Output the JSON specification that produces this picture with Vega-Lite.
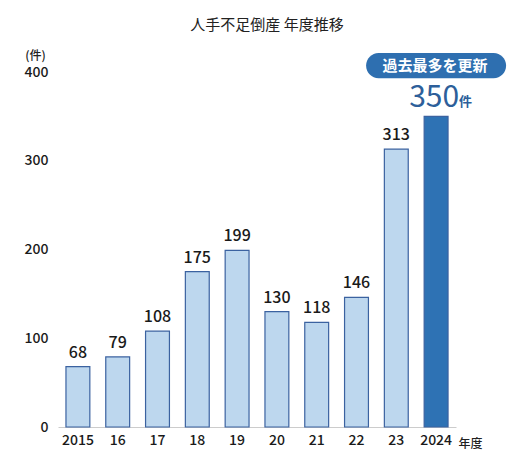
{
  "$schema": "https://vega.github.io/schema/vega-lite/v6.json",
  "description": "人手不足倒産 年度推移",
  "width": 398,
  "height": 355,
  "autosize": "none",
  "padding": {"left": 58, "top": 72, "right": 59, "bottom": 35},
  "background": "white",
  "title": {
    "text": "人手不足倒産 年度推移",
    "fontSize": 15,
    "fontWeight": "normal",
    "color": "#222222",
    "offset": 16,
    "dx": 10
  },
  "config": {
    "font": "Noto Sans CJK JP",
    "view": {"stroke": null}
  },
  "data": {
    "values": [
      {"year": "2015", "count": 68},
      {"year": "16", "count": 79},
      {"year": "17", "count": 108},
      {"year": "18", "count": 175},
      {"year": "19", "count": 199},
      {"year": "20", "count": 130},
      {"year": "21", "count": 118},
      {"year": "22", "count": 146},
      {"year": "23", "count": 313},
      {"year": "2024", "count": 350}
    ]
  },
  "encoding": {
    "x": {
      "field": "year",
      "type": "ordinal",
      "sort": null,
      "scale": {"paddingInner": 0.4, "paddingOuter": 0.2},
      "title": "年度",
      "axis": {
        "labelAngle": 0,
        "labelFontSize": 14,
        "labelFontWeight": 500,
        "labelColor": "#1a1a1a",
        "labelPadding": 6,
        "ticks": false,
        "domainColor": "#cccccc",
        "titleAngle": 0,
        "titleX": 412,
        "titleY": 20,
        "titleAlign": "center",
        "titleBaseline": "alphabetic",
        "titleFontSize": 12,
        "titleFontWeight": 500,
        "titleColor": "#222222"
      }
    },
    "y": {
      "field": "count",
      "type": "quantitative",
      "scale": {"domain": [0, 400], "nice": false},
      "title": "(件)",
      "axis": {
        "values": [0, 100, 200, 300, 400],
        "grid": false,
        "domain": false,
        "ticks": false,
        "labelPadding": 10,
        "labelFontSize": 14,
        "labelFontWeight": 500,
        "labelColor": "#1a1a1a",
        "titleAngle": 0,
        "titleX": -23,
        "titleY": -13,
        "titleAlign": "center",
        "titleBaseline": "alphabetic",
        "titleFontSize": 12,
        "titleFontWeight": 500,
        "titleColor": "#222222"
      }
    }
  },
  "layer": [
    {
      "mark": {"type": "bar", "stroke": "#3b62a0", "strokeWidth": 1.2},
      "encoding": {
        "color": {
          "condition": {"test": "datum.year == '2024'", "value": "#2e72b4"},
          "value": "#bdd7ee"
        }
      }
    },
    {
      "transform": [{"filter": "datum.year != '2024'"}],
      "mark": {
        "type": "text",
        "baseline": "alphabetic",
        "dy": -9,
        "fontSize": 16,
        "fontWeight": 500,
        "color": "#1a1a1a"
      },
      "encoding": {"text": {"field": "count", "type": "quantitative"}}
    },
    {
      "transform": [{"filter": "datum.year == '2024'"}],
      "mark": {
        "type": "text",
        "baseline": "alphabetic",
        "dy": -9,
        "dx": -2,
        "fontSize": 30,
        "fontWeight": "normal",
        "color": "#2d5f9a"
      },
      "encoding": {"text": {"field": "count", "type": "quantitative"}}
    },
    {
      "transform": [{"filter": "datum.year == '2024'"}],
      "mark": {
        "type": "text",
        "text": "件",
        "align": "left",
        "baseline": "alphabetic",
        "dy": -10,
        "dx": 23,
        "fontSize": 13,
        "fontWeight": "bold",
        "color": "#2d5f9a"
      }
    },
    {
      "transform": [{"filter": "datum.year == '2024'"}],
      "mark": {
        "type": "bar",
        "width": 140,
        "cornerRadius": 12.5,
        "color": "#2e6fb0",
        "clip": false
      },
      "encoding": {
        "y": {"datum": 393},
        "y2": {"datum": 421.5}
      }
    },
    {
      "transform": [{"filter": "datum.year == '2024'"}],
      "mark": {
        "type": "text",
        "text": "過去最多を更新",
        "baseline": "middle",
        "fontSize": 15,
        "fontWeight": "bold",
        "color": "white",
        "dx": -1
      },
      "encoding": {
        "y": {"datum": 407}
      }
    }
  ]
}
